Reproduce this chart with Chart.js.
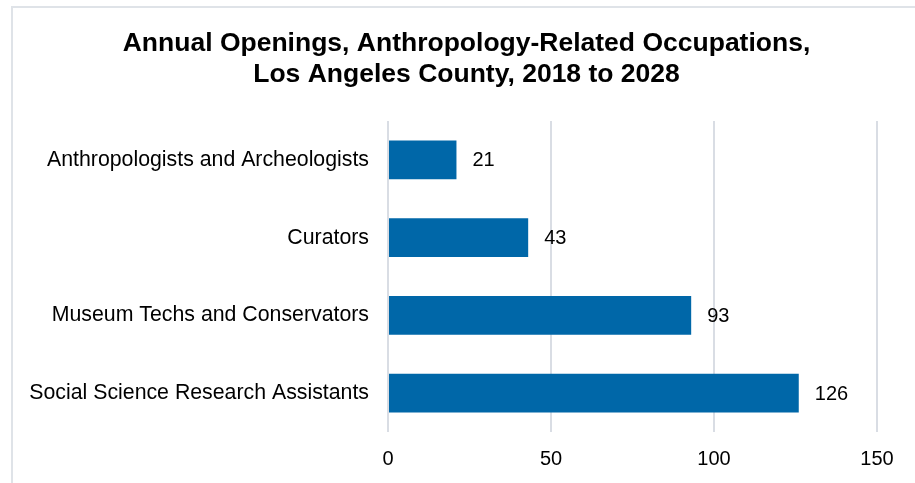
<!DOCTYPE html>
<html>
<head>
<meta charset="utf-8">
<script src="https://cdn.jsdelivr.net/npm/chart.js@4/dist/chart.umd.min.js"></script>
<style>
  html, body { margin: 0; padding: 0; background: #ffffff; }
  #wrap { position: relative; width: 915px; height: 483px; overflow: hidden; }
  #frame { position: absolute; left: 11px; top: 6px; width: 1000px; height: 600px;
           border-left: 2px solid #dfe3e8; border-top: 2px solid #dfe3e8; box-sizing: border-box; }
  canvas { position: absolute; left: 0; top: 0; }
</style>
</head>
<body>
<div id="wrap">
  <div id="frame"></div>
  <canvas id="chart" width="933" height="483"></canvas>
</div>
<script>
// Occupations and their projected annual openings
const occupations = [
  'Anthropologists and Archeologists',
  'Curators',
  'Museum Techs and Conservators',
  'Social Science Research Assistants'
];
const annualOpenings = [21, 43, 93, 126];
const titleLines = [
  'Annual Openings, Anthropology-Related Occupations,',
  'Los Angeles County, 2018 to 2028'
];
const axisMax = 150;
const axisStep = 50;

const FONT = "'Liberation Sans', Arial, sans-serif";
const BAR_BLUE = '#0067a8';

// Writes each bar's value just past its end
const valueLabels = {
  id: 'valueLabels',
  afterDatasetsDraw(chart) {
    const ctx = chart.ctx;
    const meta = chart.getDatasetMeta(0);
    const values = chart.data.datasets[0].data;
    ctx.save();
    ctx.font = '20px ' + FONT;
    ctx.fillStyle = '#000000';
    ctx.textAlign = 'left';
    ctx.textBaseline = 'middle';
    meta.data.forEach((bar, i) => {
      ctx.fillText(String(values[i]), bar.x + 16, bar.y + 1);
    });
    ctx.restore();
  }
};

new Chart(document.getElementById('chart'), {
  type: 'bar',
  data: {
    labels: occupations,
    datasets: [{
      data: annualOpenings,
      backgroundColor: BAR_BLUE,
      borderWidth: 0,
      categoryPercentage: 1,
      barPercentage: 0.5
    }]
  },
  options: {
    indexAxis: 'y',
    responsive: false,
    animation: false,
    devicePixelRatio: 1,
    layout: { padding: 0 },
    plugins: {
      legend: { display: false },
      tooltip: { enabled: false },
      title: {
        display: true,
        text: titleLines,
        color: '#000000',
        font: { family: FONT, size: 26.5, weight: 'bold', lineHeight: '31px' },
        padding: { top: 28, bottom: 31 }
      }
    },
    scales: {
      x: {
        min: 0,
        max: axisMax,
        ticks: {
          stepSize: axisStep,
          color: '#000000',
          padding: 15,
          font: { family: FONT, size: 20 }
        },
        grid: { color: '#d9dde4', lineWidth: 2, drawTicks: false },
        border: { display: false },
        afterFit(axis) { axis.height = 51; }
      },
      y: {
        ticks: {
          color: '#000000',
          padding: 19,
          font: { family: FONT, size: 21.3 }
        },
        grid: { display: false, drawTicks: false },
        border: { display: false },
        afterFit(axis) { axis.width = 388; }
      },
      // empty right-hand margin so the title centres over the framed area
      gutter: {
        type: 'linear',
        position: 'right',
        axis: 'y',
        ticks: { display: false },
        grid: { display: false, drawTicks: false },
        border: { display: false },
        afterFit(axis) { axis.width = 56; }
      }
    }
  },
  plugins: [valueLabels]
});
</script>
</body>
</html>
